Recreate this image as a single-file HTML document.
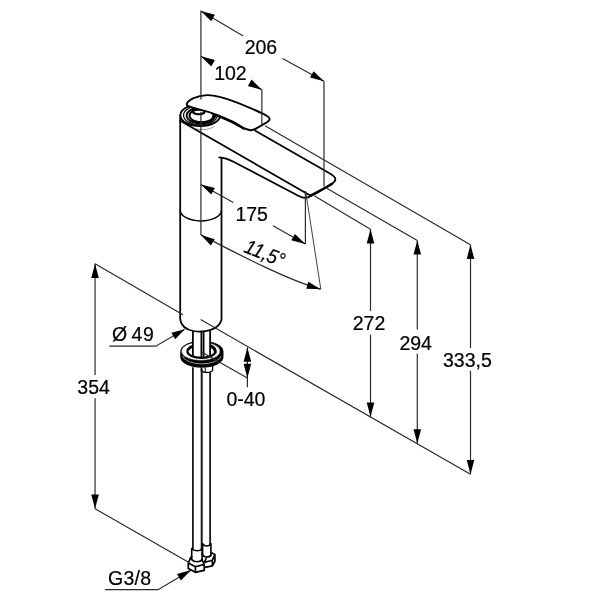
<!DOCTYPE html>
<html><head><meta charset="utf-8"><title>drawing</title>
<style>
html,body{margin:0;padding:0;background:#fff;}
svg{display:block;will-change:transform;}
.d{stroke:#2b2b2b;stroke-width:1.2;fill:none;}
.o{stroke:#000;stroke-width:1.75;fill:none;stroke-linejoin:round;stroke-linecap:round;}
text{font-family:"Liberation Sans",sans-serif;font-size:19.5px;fill:#000;stroke:#000;stroke-width:0.2px;}
polygon{fill:#000;}
</style></head><body>
<svg width="600" height="600" viewBox="0 0 600 600">
<rect width="600" height="600" fill="#fff"/>
<g id="body">
<path class="o" d="M180.2,115 V319.3 C181,325 186,329.5 193.3,331 C198,331.8 205,331.8 210.8,329.8 C216,328 220.5,325 221.5,319.5 V157.5" />
<path class="o" d="M180.2,210 A20.65,10.8 0 0 0 221.5,210.3" style="stroke-width:1.45"/>
<path class="o" d="M219.2,157.4 C224,157.6 229,159.4 234,162 L298.3,195.8 C301,197.2 303.5,198 305.5,197.9 C308,197.7 310,196.7 312,195.3" />
<path class="o" d="M255.3,130.7 L329.5,173.3 C332.5,175 335.3,177 335.4,179.3 C335.4,181.3 334,182.6 331.5,184.2" />
<path class="o" d="M331.5,184.2 L326.7,187 L315,193.5 L310.5,195.6" style="stroke-width:2.6"/>
<path class="o" d="M180.2,120.7 L306.7,193.5 L310.5,195.6" />
<ellipse class="o" cx="200.30" cy="115.20" rx="19.90" ry="10.90" style="stroke-width:1.8;"/>
<ellipse class="o" cx="200.40" cy="115.30" rx="16.90" ry="9.60" style="stroke-width:1.2;"/>
<ellipse class="o" cx="200.90" cy="115.50" rx="14.30" ry="8.00" style="stroke-width:1.9;"/>
<ellipse class="o" cx="201.50" cy="115.60" rx="12.00" ry="6.60" style="stroke-width:2.0;"/>
<ellipse class="o" cx="198.80" cy="111.80" rx="5.80" ry="2.40" style="stroke-width:2;"/>
<path class="o" d="M193.5,128.3 C200,130.4 209,130.2 214,126.6" style="stroke-width:0.5;stroke:#444"/>
</g>
<g id="stems">
<path class="o" d="M181,351.5 V357 A20.85,10 0 0 0 222.7,357 V351.5 A20.85,10 0 0 0 181,351.5 Z" style="fill:#000;stroke-width:1.5"/>
<path class="o" d="M182.6,356.2 A19.4,8.4 0 0 0 221.2,356.4" style="stroke:#fff;stroke-width:0.6"/>
<ellipse class="o" cx="200.80" cy="351.20" rx="19.40" ry="9.30" style="stroke-width:0.5;fill:#fff"/>
<ellipse class="o" cx="201.40" cy="351.50" rx="14.00" ry="6.40" style="stroke-width:2.2;fill:#fff"/>
<path class="o" d="M211.5,346.2 C214.5,347.8 215.6,350 215.2,352.5" style="stroke-width:2.8"/>
<path class="o" d="M188,349.5 C189.5,347.5 192,346.3 194,345.8" style="stroke-width:2.6"/>
<rect x="193" y="336" width="17.3" height="14" fill="#fff"/>
<line class="o" x1="192.90" y1="331.50" x2="192.90" y2="356.29" />
<line class="o" x1="201.40" y1="331.50" x2="201.40" y2="357.60" />
<line class="o" x1="203.60" y1="331.50" x2="203.60" y2="357.52" />
<line class="o" x1="210.10" y1="331.50" x2="210.10" y2="356.21" />
<line class="o" x1="192.90" y1="368.00" x2="192.90" y2="548.50" style="stroke-width:1.8;stroke:#1a1a1a"/>
<line class="o" x1="201.70" y1="369.00" x2="201.70" y2="548.50" style="stroke-width:2;stroke:#1a1a1a"/>
<line class="o" x1="210.10" y1="373.00" x2="210.10" y2="544.00" style="stroke-width:1.8;stroke:#1a1a1a"/>
<path class="o" d="M201.3,368 V370.6 L204,372.3 H210 L212.6,370.4 V366" style="stroke-width:1.3"/>
<path class="o" d="M205.2,368 V371.6" style="stroke-width:1"/>
<path class="o" d="M191.7,548.6 V559.5 M202.1,548.6 V559.5 M191.7,548.6 C194,551.5 200,551.5 202.1,548.6" style="stroke-width:1.6"/>
<path class="o" d="M202.6,543.8 V555 M210.9,543.8 V555.5 M202.6,543.8 C204.5,546.8 209,546.8 210.9,543.8" style="stroke-width:1.6"/>
<path class="o" d="M188.3,563 L190.6,557.6 L191.7,557 M188.3,563 V568.6 L195.4,572.3 L204.2,570.4 V564.4 L202.1,560 M188.3,563 L195.4,566.7 L204.2,564.4 M195.4,566.7 V572.3 M191.7,559.5 C194,562.5 200,562.5 202.1,559.5" style="stroke-width:1.7"/>
<path class="o" d="M204.6,561.6 L206,558.8 M210.9,552.6 L214.9,554.6 V561.4 L212.4,565.8 L205,567.4 M205,562.2 L212.4,560.2 L214.9,554.6 M212.4,560.2 V565.8 M202.6,555 C204.5,557.8 209,557.8 210.9,555.4" style="stroke-width:1.7"/>
</g>
<g id="handle">
<path class="o" d="M187.3,105.6 C185.8,103.6 188,100.8 193,98.4 C197,96.6 202,95.3 207,95.1 C212,94.9 218,96.4 225,98.3 C233,100.6 245,105.4 262,113.3 C266,115.2 269.5,116.8 269.7,119 C269.8,120.6 268.5,121.4 267,122.3 L255.5,128.9 C253.5,130 251.5,130.5 249.5,130 C247.5,129.6 245.5,128.8 243.3,127.8 L233.3,121.9 C225,117.9 210,112 200,109.6 C195,108.4 190,107.2 187.3,105.6 Z" style="fill:#fff;stroke-width:1.9"/>
<path class="o" d="M217,115.8 L225,119.2 L233.3,123 L244,129" style="stroke-width:1.6"/>
</g>
<g id="dims">
<line class="d" x1="200.90" y1="10.80" x2="200.90" y2="99.60" />
<line class="d" x1="200.90" y1="111.80" x2="200.90" y2="234.90" />
<line class="d" x1="200.90" y1="11.10" x2="243.20" y2="35.90" />
<line class="d" x1="282.50" y1="58.50" x2="324.00" y2="81.30" />
<line class="d" x1="324.00" y1="81.30" x2="324.00" y2="186.70" />
<line class="d" x1="200.90" y1="56.30" x2="213.00" y2="63.10" />
<line class="d" x1="250.00" y1="83.00" x2="261.85" y2="89.70" />
<line class="d" x1="261.85" y1="89.70" x2="261.85" y2="125.00" />
<line class="d" x1="200.90" y1="184.40" x2="233.30" y2="202.60" />
<line class="d" x1="273.00" y1="225.70" x2="305.30" y2="244.00" />
<line class="d" x1="305.40" y1="191.00" x2="305.40" y2="244.00" />
<line class="d" x1="305.60" y1="191.00" x2="320.80" y2="289.20" style="stroke-width:0.9"/>
<path class="d" d="M200.9,234.9 C240,255.3 290,281 320.7,289.2" />
<line class="d" x1="370.50" y1="229.20" x2="370.50" y2="311.00" />
<line class="d" x1="370.50" y1="334.60" x2="370.50" y2="416.70" />
<line class="d" x1="417.30" y1="240.40" x2="417.30" y2="329.50" />
<line class="d" x1="417.30" y1="353.80" x2="417.30" y2="443.50" />
<line class="d" x1="470.50" y1="244.70" x2="470.50" y2="348.00" />
<line class="d" x1="470.50" y1="370.80" x2="470.50" y2="474.20" />
<line class="d" x1="265.00" y1="125.70" x2="470.50" y2="244.70" />
<line class="d" x1="326.70" y1="188.30" x2="417.30" y2="240.40" />
<line class="d" x1="314.20" y1="195.80" x2="370.50" y2="229.20" />
<line class="d" x1="95.05" y1="263.70" x2="183.00" y2="314.70" />
<line class="d" x1="200.60" y1="319.60" x2="470.50" y2="474.20" />
<line class="d" x1="95.05" y1="263.70" x2="95.05" y2="375.00" />
<line class="d" x1="95.05" y1="398.30" x2="95.05" y2="508.80" />
<line class="d" x1="95.05" y1="508.80" x2="189.00" y2="562.60" />
<path class="d" d="M109.2,346.2 H155.8 L184.6,329.3" />
<line class="d" x1="247.40" y1="347.60" x2="247.40" y2="387.20" />
<line class="d" x1="200.60" y1="351.40" x2="247.40" y2="377.90" />
<path class="d" d="M105,589.7 H158 L191,570.2" />
</g>
<g id="arrows">
<polygon points="200.90,11.10 214.90,14.79 211.25,21.22"/>
<polygon points="324.00,81.30 310.00,77.61 313.65,71.18"/>
<polygon points="200.90,56.30 214.90,59.99 211.25,66.42"/>
<polygon points="261.85,89.70 247.85,86.01 251.50,79.58"/>
<polygon points="200.90,184.40 214.90,188.09 211.25,194.52"/>
<polygon points="305.30,244.00 291.30,240.31 294.95,233.88"/>
<polygon points="200.90,234.90 214.75,239.13 210.85,245.42"/>
<polygon points="320.70,289.20 306.23,288.72 308.35,281.63"/>
<polygon points="370.50,229.20 374.30,243.40 366.70,243.40"/>
<polygon points="370.50,416.70 366.70,402.50 374.30,402.50"/>
<polygon points="417.30,240.40 421.10,254.60 413.50,254.60"/>
<polygon points="417.30,443.50 413.50,429.30 421.10,429.30"/>
<polygon points="470.50,244.70 474.30,258.90 466.70,258.90"/>
<polygon points="470.50,474.20 466.70,460.00 474.30,460.00"/>
<polygon points="95.05,263.70 98.85,277.90 91.25,277.90"/>
<polygon points="95.05,508.80 91.25,494.60 98.85,494.60"/>
<polygon points="184.70,329.20 175.26,339.18 171.40,332.63"/>
<polygon points="247.40,347.60 251.20,361.80 243.60,361.80"/>
<polygon points="247.40,377.90 243.60,363.70 251.20,363.70"/>
<polygon points="191.20,570.10 180.90,580.59 177.04,574.04"/>
</g>
<g id="texts">
<text x="260.90" y="54.30" text-anchor="middle">206</text>
<text x="230.40" y="80.00" text-anchor="middle">102</text>
<text x="251.70" y="220.80" text-anchor="middle">175</text>
<text transform="translate(243,251.8) rotate(22) scale(0.94,1.04)" font-style="italic" font-size="19">11,5°</text>
<text x="369.00" y="330.30" text-anchor="middle">272</text>
<text x="415.70" y="349.60" text-anchor="middle">294</text>
<text x="467.40" y="366.60" text-anchor="middle">333,5</text>
<text x="93.60" y="394.20" text-anchor="middle">354</text>
<text x="112.00" y="340.80" >Ø <tspan x="131.6" letter-spacing="0.45">49</tspan></text>
<text x="245.90" y="405.60" text-anchor="middle">0-40</text>
<text x="108.10" y="584.50" letter-spacing="0.25">G3/8</text>
</g>
</svg>
</body></html>
